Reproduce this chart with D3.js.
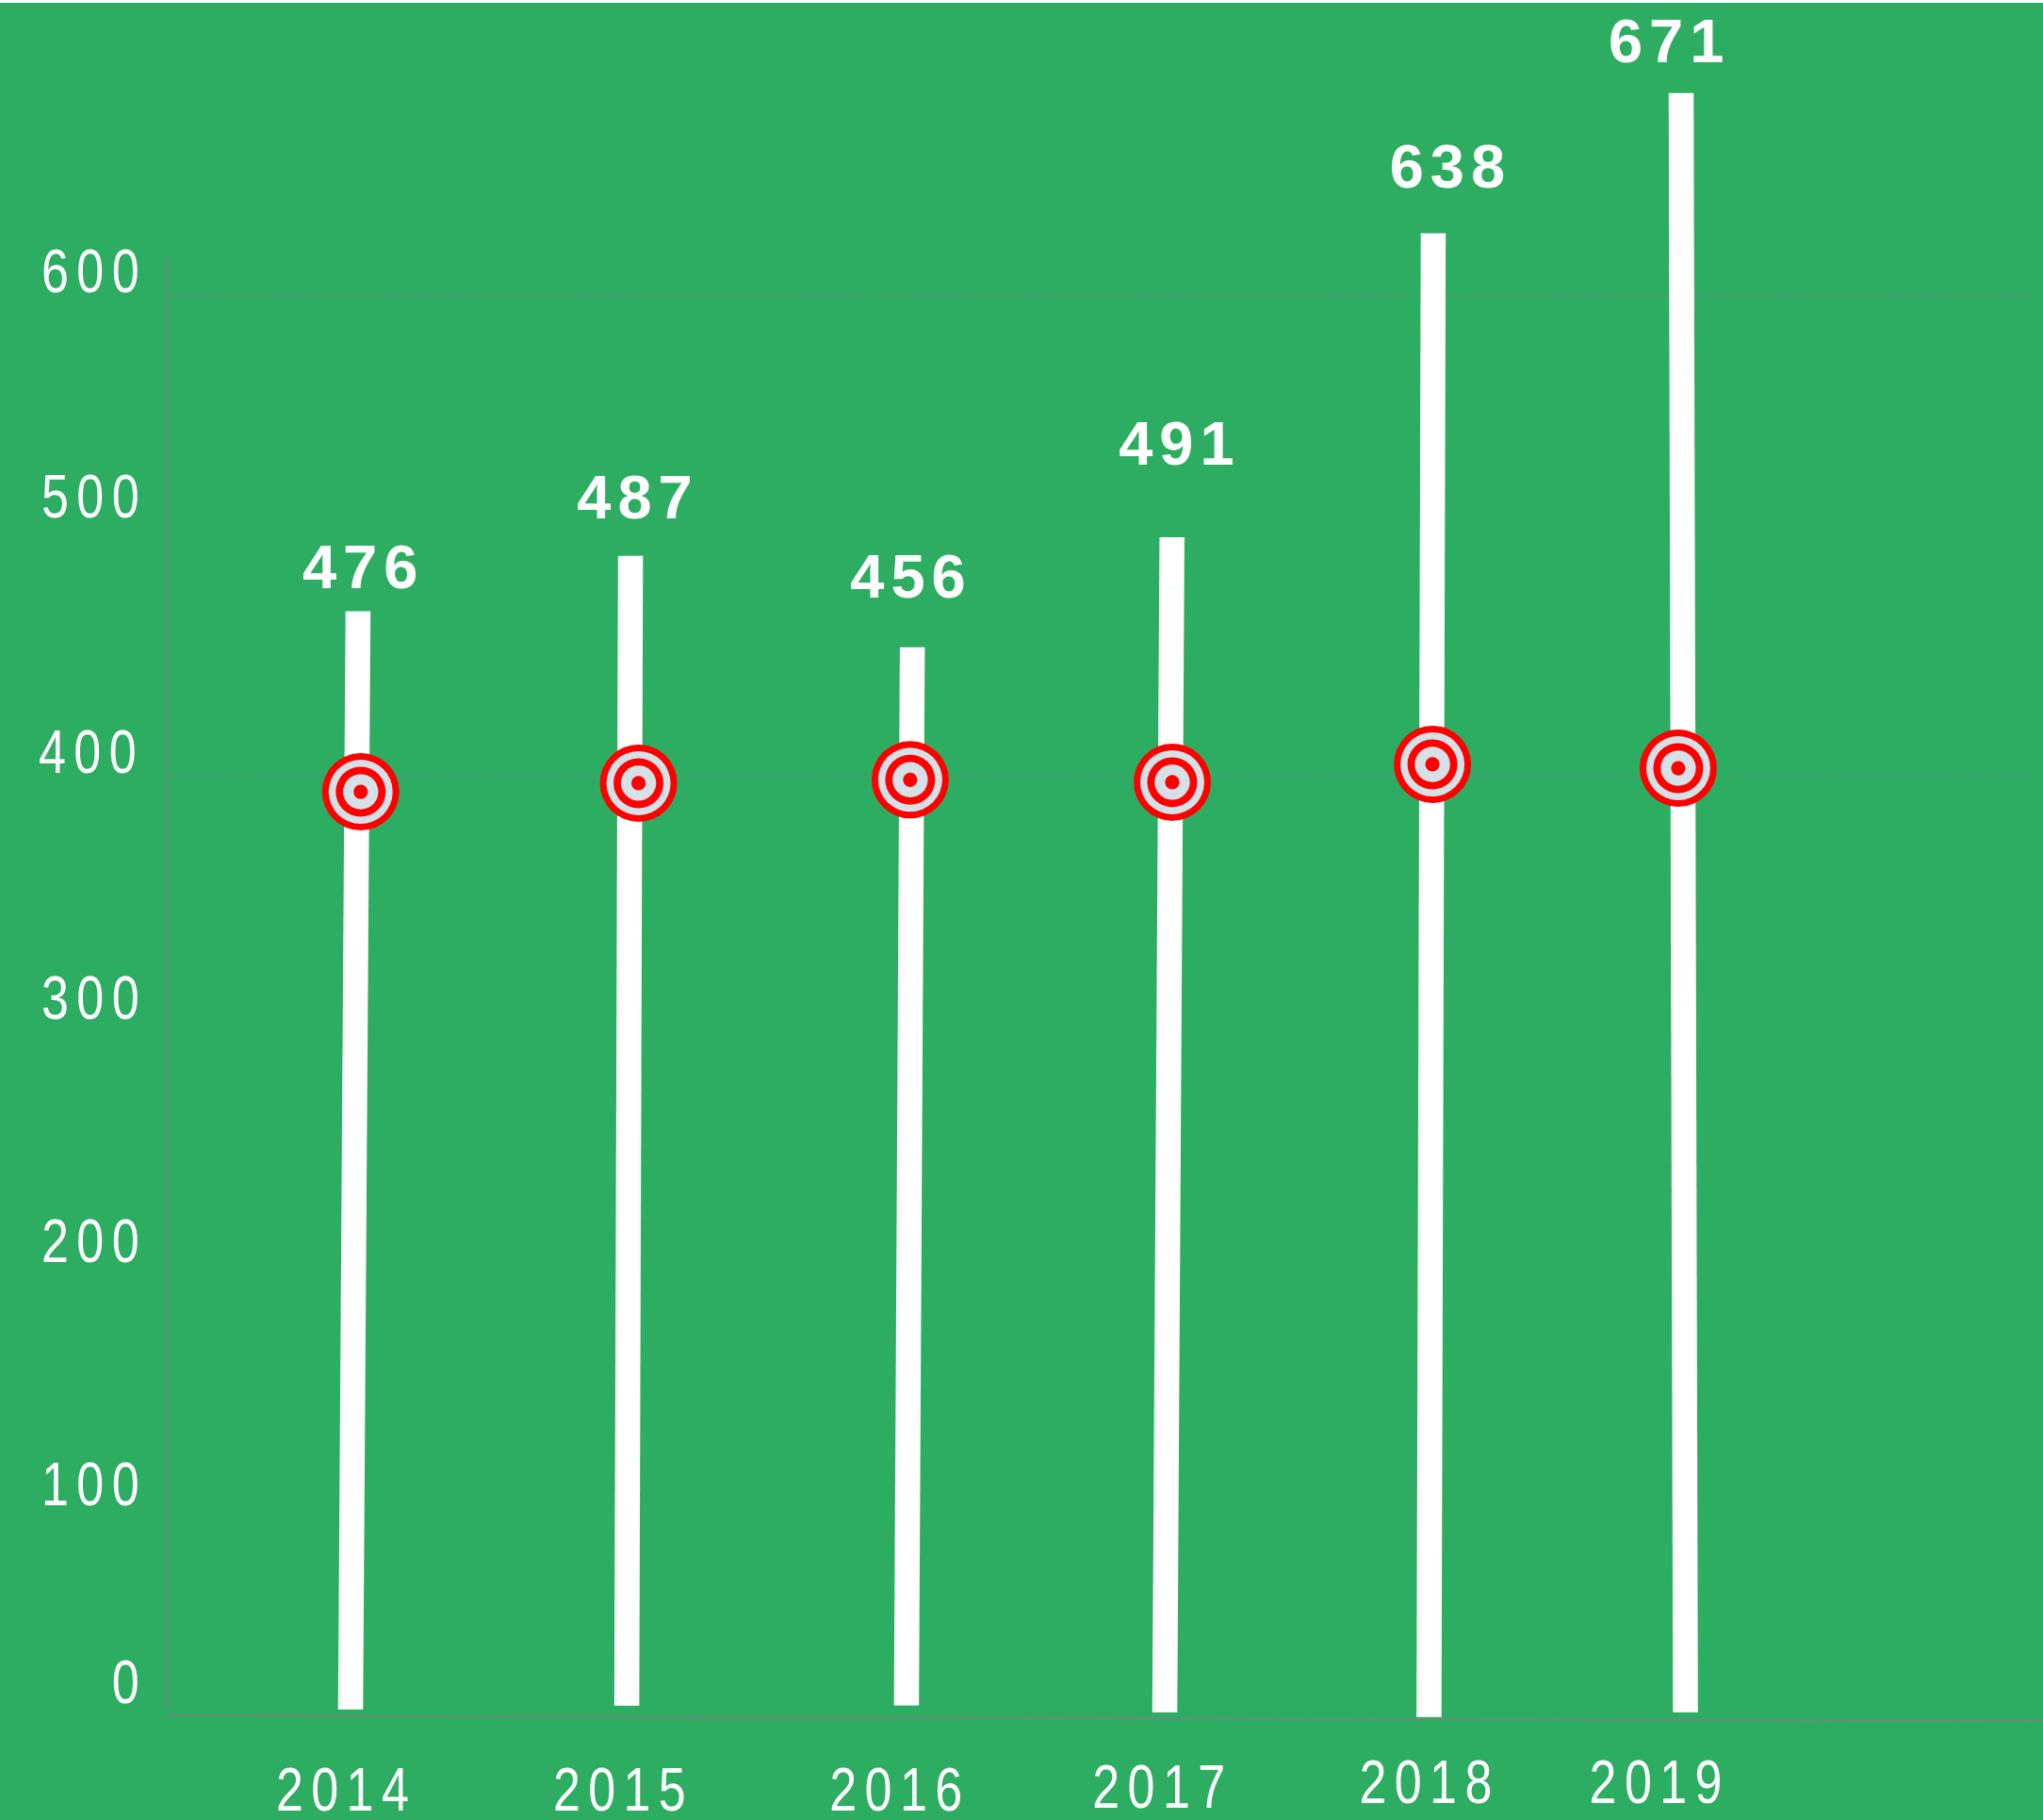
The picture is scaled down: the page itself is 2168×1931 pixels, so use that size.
<!DOCTYPE html>
<html>
<head>
<meta charset="utf-8">
<script src="https://cdn.jsdelivr.net/npm/d3@7"></script>
<style>
    html, body { margin: 0; padding: 0; background: #fff; }
    svg { display: block; }
    .tick-label { font-family: "Liberation Sans", sans-serif; font-size: 65px; fill: #fff; letter-spacing: 10.5px; }
    .value-label { font-family: "Liberation Sans", sans-serif; font-weight: bold; font-size: 65px; fill: #fff; letter-spacing: 7px; text-anchor: middle; }
</style>
</head>
<body>
<svg id="chart"></svg>
<script>
// labels printed on the chart
let years = [2014, 2015, 2016, 2017, 2018, 2019];
let values = [476, 487, 456, 491, 638, 671];
let yTicks = [0, 100, 200, 300, 400, 500, 600];
let gridTicks = [400, 600];

let barTop = [468.7, 491.7, 453.7, 499.4, 625.6, 683.9];
let barFoot = [12.6, 14.2, 14.3, 11.4, 9.5, 11.4];
let barTopYear = [2014.028, 2015.049, 2016.105, 2017.078, 2018.057, 2018.986];
let barFootYear = [2014.000, 2015.035, 2016.083, 2017.051, 2018.041, 2019.002];

let targetValue = [393.7, 397.3, 398.7, 397.7, 405.1, 403.5];
let targetYear = [2014.038, 2015.079, 2016.097, 2017.079, 2018.054, 2018.975];

let valueLabelAt = [478.4, 507.2, 474.4, 529.6, 644.6, 696.7];
let valueLabelYear = [2014.034, 2015.063, 2016.087, 2017.093, 2018.108, 2018.928];

let yearLabelAt = [-29.2, -29.4, -29.4, -28.1, -26.2, -26.2];
let yearLabelYear = [2013.972, 2015.010, 2016.046, 2017.031, 2018.031, 2018.893];

let yTickLabelAt = [15.6, 97.7, 198.6, 299.7, 401.6, 508, 601.2];

let width = 2168;
let height = 1931;
let topGap = 3;
let axisLeft = 177;
let gridRight = 2158;
let barWidth = 26.5;
let narrow = 0.8;           // no narrow font installed, squeeze the regular one
let trailingSpace = 3;      // letter-spacing also pads the end of the text
let green = '#2DAD62';
let axisGrey = '#808080';
let ringRadii = [41, 34, 26.5, 18.7, 7.6];
let ringColors = ['#FF0000', '#D5E1E6', '#FF0000', '#D5E1E6', '#FF0000'];

let svg = d3.select('#chart').attr('width', width).attr('height', height);

let x = d3.scaleLinear().domain([2014, 2019]).range([372, 1788]);
let y = d3.scaleLinear().domain([0, 600]).range([1846, 313]);

svg.append('rect')
    .attr('y', topGap)
    .attr('width', width)
    .attr('height', height - topGap)
    .attr('fill', green);

// dotted grid, only the two lines that are visible
svg.append('g').selectAll('line').data(gridTicks).join('line')
    .attr('x1', axisLeft)
    .attr('x2', gridRight)
    .attr('y1', (d) => y(d))
    .attr('y2', (d) => y(d))
    .attr('stroke', axisGrey)
    .attr('stroke-width', 1.2)
    .attr('stroke-dasharray', '2 1.5');

// left axis
let yAxis = svg.append('g')
    .attr('transform', 'translate(' + axisLeft + ',0)')
    .call(d3.axisLeft(y).tickValues(yTicks).tickSize(0).tickFormat(d3.format('d')));
yAxis.select('.domain').remove();
yAxis.selectAll('text')
    .attr('class', 'tick-label')
    .attr('dy', null)
    .attr('x', null)
    .attr('transform', (d, i) => 'translate(' + (d === 400 ? -24 : -21) + ',' + (y(yTickLabelAt[i]) - y(d)) + ') scale(' + narrow + ',1)');

svg.append('line')
    .attr('x1', axisLeft)
    .attr('x2', axisLeft)
    .attr('y1', y(616))
    .attr('y2', y(13))
    .attr('stroke', axisGrey)
    .attr('stroke-width', 1.5);

// bottom axis, the line runs slightly downhill in the reference
svg.append('line')
    .attr('x1', axisLeft)
    .attr('x2', width)
    .attr('y1', y(10.2))
    .attr('y2', y(7.8))
    .attr('stroke', axisGrey)
    .attr('stroke-width', 1.5);

let xAxis = svg.append('g')
    .call(d3.axisBottom(x).tickValues(years).tickSize(0).tickFormat(d3.format('d')));
xAxis.select('.domain').remove();
xAxis.selectAll('text')
    .attr('class', 'tick-label')
    .attr('text-anchor', 'middle')
    .attr('dy', null)
    .attr('y', null)
    .attr('transform', (d, i) => 'translate(' + (x(yearLabelYear[i]) - x(d) + trailingSpace) + ',' + y(yearLabelAt[i]) + ') scale(' + narrow + ',1)');

// bars are slightly leaning, so draw them as areas from foot to top
let barArea = d3.area()
    .x0((d) => x(d.year) - barWidth / 2)
    .x1((d) => x(d.year) + barWidth / 2)
    .y((d) => y(d.value));

svg.append('g').selectAll('path').data(years).join('path')
    .attr('d', (d, i) => barArea([
        { year: barTopYear[i], value: barTop[i] },
        { year: barFootYear[i], value: barFoot[i] }
    ]))
    .attr('fill', '#fff');

// target markers
let targets = svg.append('g').selectAll('g').data(years).join('g')
    .attr('transform', (d, i) => 'translate(' + x(targetYear[i]) + ',' + y(targetValue[i]) + ')');

ringRadii.forEach((r, i) => {
    targets.append('circle')
        .attr('r', r)
        .attr('fill', ringColors[i]);
});

// value labels above the bars
svg.append('g').selectAll('text').data(values).join('text')
    .attr('class', 'value-label')
    .attr('x', (d, i) => x(valueLabelYear[i]) + 4)
    .attr('y', (d, i) => y(valueLabelAt[i]))
    .text((d) => d);
</script>
</body>
</html>
